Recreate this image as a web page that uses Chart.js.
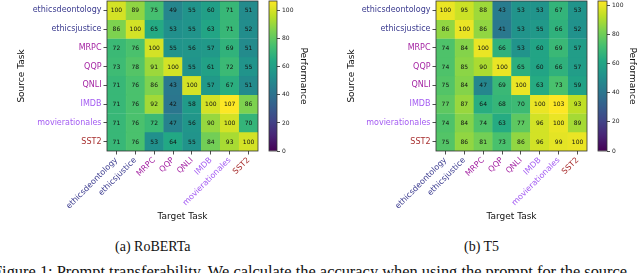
<!DOCTYPE html>
<html>
<head>
<meta charset="utf-8">
<script src="https://cdn.jsdelivr.net/npm/chart.js@4.4.0/dist/chart.umd.min.js"></script>
<style>
  body { margin: 0; width: 640px; height: 273px; overflow: hidden; background: #fff; position: relative; }
  canvas { position: absolute; }
  .cap { position: absolute; font-family: "Liberation Serif", serif; font-size: 14px; color: #111; white-space: nowrap; line-height: 16px; }
  .fig { font-size: 16.4px; line-height: 17px; }
</style>
</head>
<body>
<canvas id="heatA" width="262" height="230" style="left:0;top:0"></canvas>
<canvas id="barA" width="58" height="160" style="left:262px;top:0"></canvas>
<canvas id="heatB" width="271" height="230" style="left:320px;top:0"></canvas>
<canvas id="barB" width="49" height="160" style="left:591px;top:0"></canvas>
<div class="cap" style="left:115px;top:239px">(a) RoBERTa</div>
<div class="cap" style="left:464px;top:239px">(b) T5</div>
<div class="cap fig" style="left:-7px;top:263px">Figure 1: Prompt transferability. We calculate the accuracy when using the prompt for the source</div>
<script>
// 작업 이름 (행 = source, 열 = target)
const sourceTasks = ['ethicsdeontology', 'ethicsjustice', 'MRPC', 'QQP', 'QNLI', 'IMDB', 'movierationales', 'SST2'];
const targetTasks = ['ethicsdeontology', 'ethicsjustice', 'MRPC', 'QQP', 'QNLI', 'IMDB', 'movierationales', 'SST2'];
const taskColors = ['#3b3b8f', '#3b3b8f', '#a526a4', '#a526a4', '#a526a4', '#a45cf2', '#a45cf2', '#a83030'];

// RoBERTa transfer performance
const robertaScores = [
    [100, 89, 75, 49, 55, 60, 71, 51],
    [86, 100, 65, 53, 55, 63, 71, 52],
    [72, 76, 100, 55, 56, 57, 69, 51],
    [73, 78, 91, 100, 55, 61, 72, 55],
    [71, 76, 86, 43, 100, 57, 67, 51],
    [71, 76, 92, 42, 58, 100, 107, 86],
    [71, 76, 72, 47, 56, 90, 100, 70],
    [71, 76, 53, 64, 55, 84, 93, 100]
];

// T5 transfer performance
const t5Scores = [
    [100, 95, 88, 43, 53, 53, 67, 53],
    [86, 100, 86, 41, 53, 55, 66, 52],
    [74, 84, 100, 66, 53, 60, 69, 57],
    [74, 85, 90, 100, 65, 60, 66, 57],
    [75, 84, 47, 69, 100, 63, 73, 59],
    [77, 87, 64, 68, 70, 100, 103, 93],
    [74, 84, 74, 63, 77, 96, 100, 89],
    [75, 86, 81, 73, 86, 96, 99, 100]
];

const colorbarTicks = [0, 20, 40, 60, 80, 100];
const robertaMax = 107;
const t5Max = 103;

Chart.defaults.font.family = '"DejaVu Sans", sans-serif';

// viridis colormap
const viridisStops = ['#440154', '#482475', '#414487', '#355f8d', '#2a788e', '#21918c', '#22a884', '#44bf70', '#7ad151', '#bddf26', '#fde725'];
function hexToRgb(h) {
    return [parseInt(h.slice(1, 3), 16), parseInt(h.slice(3, 5), 16), parseInt(h.slice(5, 7), 16)];
}
function viridis(t) {
    t = Math.max(0, Math.min(1, t));
    const s = t * (viridisStops.length - 1);
    const i = Math.min(Math.floor(s), viridisStops.length - 2);
    const f = s - i;
    const a = hexToRgb(viridisStops[i]);
    const b = hexToRgb(viridisStops[i + 1]);
    const c = a.map((v, k) => Math.round(v + (b[k] - v) * f));
    return `rgb(${c[0]}, ${c[1]}, ${c[2]})`;
}

// 셀 숫자 + 테두리
const cellLabels = {
    id: 'cellLabels',
    afterDatasetsDraw(chart) {
        const ctx = chart.ctx;
        ctx.save();
        ctx.font = '6px "DejaVu Sans"';
        ctx.fillStyle = '#111';
        ctx.textAlign = 'center';
        ctx.textBaseline = 'middle';
        chart.data.datasets.forEach((ds, i) => {
            chart.getDatasetMeta(i).data.forEach((bar, j) => {
                const p = bar.getCenterPoint();
                ctx.fillText(ds.data[j].v, p.x, p.y + 0.5);
            });
        });
        const a = chart.chartArea;
        ctx.strokeStyle = '#333';
        ctx.lineWidth = 0.8;
        ctx.strokeRect(a.left, a.top, a.right - a.left, a.bottom - a.top);
        ctx.restore();
    }
};

function drawHeatmap(id, scores, vmax, axisWidth, titlePad) {
    const datasets = scores.map((row, r) => ({
        label: sourceTasks[r],
        data: row.map((v, c) => ({ x: targetTasks[c], y: [r, r + 1], v: v })),
        backgroundColor: ctx => viridis(ctx.raw.v / vmax),
        borderColor: ctx => viridis(ctx.raw.v / vmax),
        borderWidth: 0.6,
        borderSkipped: false,
        barPercentage: 1,
        categoryPercentage: 1,
        grouped: false
    }));

    new Chart(document.getElementById(id), {
        type: 'bar',
        data: { labels: targetTasks, datasets: datasets },
        options: {
            responsive: false,
            animation: false,
            devicePixelRatio: 1,
            events: [],
            parsing: { xAxisKey: 'x', yAxisKey: 'y' },
            layout: { padding: { top: 1, right: 4 } },
            plugins: { legend: { display: false }, tooltip: { enabled: false } },
            scales: {
                x: {
                    grid: { offset: false, drawOnChartArea: false, tickLength: 3.5, color: '#222', tickWidth: 0.8 },
                    border: { display: false },
                    ticks: {
                        minRotation: 45, maxRotation: 45, autoSkip: false, padding: 1,
                        font: { size: 8 },
                        color: ctx => taskColors[ctx.index]
                    },
                    title: { display: true, text: 'Target Task', font: { size: 9 }, color: '#111', padding: { bottom: 7.6 } },
                    afterFit: s => { s.height = 79; s.paddingLeft = 0; s.paddingRight = 0; }
                },
                y: {
                    min: 0, max: 8, reverse: true,
                    afterBuildTicks: s => { s.ticks = sourceTasks.map((t, i) => ({ value: i + 0.5 })); },
                    grid: { drawOnChartArea: false, tickLength: 3.5, color: '#222', tickWidth: 0.8 },
                    border: { display: false },
                    ticks: {
                        padding: 2,
                        font: { size: 8 },
                        color: ctx => taskColors[ctx.index],
                        callback: (v, i) => sourceTasks[i]
                    },
                    title: { display: true, text: 'Source Task', font: { size: 9 }, color: '#111', padding: { top: titlePad } },
                    afterFit: s => { s.width = axisWidth; s.paddingTop = 0; s.paddingBottom = 0; }
                }
            }
        },
        plugins: [cellLabels]
    });
}

function drawColorbar(id, vmax, axisWidth, titlePad) {
    new Chart(document.getElementById(id), {
        type: 'bar',
        data: {
            labels: [''],
            datasets: [{
                data: [[0, vmax]],
                backgroundColor: ctx => {
                    const a = ctx.chart.chartArea;
                    if (!a) return viridis(0.5);
                    const g = ctx.chart.ctx.createLinearGradient(0, a.bottom, 0, a.top);
                    viridisStops.forEach((c, i) => g.addColorStop(i / (viridisStops.length - 1), c));
                    return g;
                },
                borderWidth: 0,
                barPercentage: 1,
                categoryPercentage: 1
            }]
        },
        options: {
            responsive: false,
            animation: false,
            devicePixelRatio: 1,
            events: [],
            layout: { padding: { left: 7, top: 1, bottom: 9 } },
            plugins: { legend: { display: false }, tooltip: { enabled: false } },
            scales: {
                x: { display: false },
                y: {
                    position: 'right',
                    min: 0, max: vmax,
                    afterBuildTicks: s => { s.ticks = colorbarTicks.map(v => ({ value: v })); },
                    grid: { drawOnChartArea: false, tickLength: 3, color: '#222', tickWidth: 0.8 },
                    border: { display: false },
                    ticks: { padding: 2, font: { size: 6 }, color: '#222' },
                    title: { display: true, text: 'Performance', font: { size: 9 }, color: '#111', padding: { top: titlePad } },
                    afterFit: s => { s.width = axisWidth; s.paddingTop = 0; s.paddingBottom = 0; }
                }
            }
        },
        plugins: [{
            id: 'cbFrame',
            afterDatasetsDraw(chart) {
                const a = chart.chartArea;
                const ctx = chart.ctx;
                ctx.save();
                ctx.strokeStyle = '#333';
                ctx.lineWidth = 0.8;
                ctx.strokeRect(a.left, a.top, a.right - a.left, a.bottom - a.top);
                ctx.restore();
            }
        }]
    });
}

drawHeatmap('heatA', robertaScores, robertaMax, 107, 16.6);
drawColorbar('barA', robertaMax, 43, 11.6);
drawHeatmap('heatB', t5Scores, t5Max, 116, 26.6);
drawColorbar('barB', t5Max, 33, 2.6);
</script>
</body>
</html>
